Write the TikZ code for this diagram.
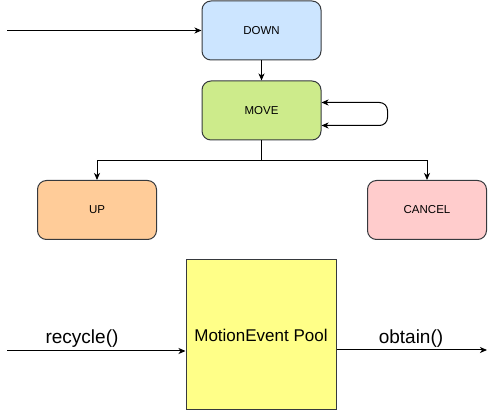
\documentclass[tikz,border=0pt]{standalone}
\usepackage{fontspec}
\setmainfont{Liberation Sans}
\usepackage{tikz}
\usetikzlibrary{calc,positioning,arrows.meta}

\definecolor{edge}{HTML}{36393D}
\definecolor{downfill}{HTML}{CCE5FF}
\definecolor{movefill}{HTML}{CDEB8B}
\definecolor{upfill}{HTML}{FFCC99}
\definecolor{cancelfill}{HTML}{FFCCCC}
\definecolor{poolfill}{HTML}{FFFF88}

\begin{document}
\begin{tikzpicture}[x=1pt,y=-1pt,
	state/.style={draw=edge,line width=1pt,rounded corners=9pt,minimum width=119pt,minimum height=59pt,inner sep=0pt,font=\fontsize{11.5}{13}\selectfont},
	calltext/.style={anchor=base,font=\fontsize{19}{22}\selectfont},
	flow/.style={line width=1pt,-{Stealth[length=7pt,width=6pt,inset=2pt]}}]
			\useasboundingbox (0,0) rectangle (496,411);
			\node[state,fill=downfill] at (261.5,30.5) (down) {DOWN};
			\node[state,fill=movefill] at (261.5,110.5) (move) {MOVE};
			\node[state,fill=upfill] at (97,210) (up) {UP};
			\node[state,fill=cancelfill] at (427,210) (cancel) {CANCEL};
			\node[draw=edge,line width=1pt,fill=poolfill,minimum size=150pt,inner sep=0pt,font=\fontsize{17}{20}\selectfont] at (261,335) (pool) {MotionEvent Pool};
			\coordinate (in) at (7,30.5);
			\coordinate (rin) at (7,351);
			\coordinate (oout) at (487,350);
			\draw[flow] (in) -- (down.west);
			\draw[flow] (down) -- (move);
			\draw[flow,{Stealth[length=7pt,width=6pt,inset=2pt]}-{Stealth[length=7pt,width=6pt,inset=2pt]},rounded corners=8pt] ($(move.east)+(0,-8)$) -- ++(66,0) |- ($(move.east)+(0,15)$);
			\draw[flow] (move.south) -- ++(0,20) -| (up.north);
			\draw[flow] (move.south) -- ++(0,20) -| (cancel.north);
			\draw[flow] (rin) -- (pool.west |- rin);
			\draw[flow] (pool.east |- oout) -- (oout);
			\node[calltext] at (82,344) (recycle) {recycle()};
			\node[calltext] at (411,344) (obtain) {obtain()};
		\end{tikzpicture}
\end{document}
